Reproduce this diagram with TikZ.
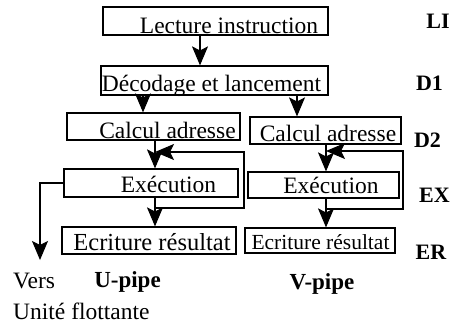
\documentclass[tikz,border=0pt]{standalone}
\usepackage{fontspec}
\setmainfont{Liberation Serif}
\usetikzlibrary{arrows.meta}
\begin{document}
\begin{tikzpicture}[x=1pt,y=-1pt,
  box/.style={draw, line width=1.2pt, inner sep=0pt},
  txt/.style={inner sep=0pt, anchor=base, font=\fontsize{23.5}{28}\selectfont},
  stage/.style={inner sep=0pt, anchor=base, font=\fontsize{22}{26}\selectfont\bfseries},
  arr/.style={line width=1.1pt, -{Stealth[length=19pt,width=16pt,inset=4pt,line width=1pt]}},
  wire/.style={line width=1pt}]
\useasboundingbox (0,0) rectangle (454,324);

% pipeline stage boxes
\node[box, minimum width=225pt, minimum height=28pt] (li)  at (215.5,21)  {};
\node[box, minimum width=227pt, minimum height=29pt] (d1)  at (214.5,80.5) {};
\node[box, minimum width=173pt, minimum height=27pt] (ca1) at (153.5,126.5) {};
\node[box, minimum width=151pt, minimum height=27pt] (ca2) at (325.5,130.5) {};
\node[box, minimum width=174pt, minimum height=28pt] (ex1) at (151,183) {};
\node[box, minimum width=151pt, minimum height=26pt] (ex2) at (323.5,185) {};
\node[box, minimum width=174pt, minimum height=27pt] (er1) at (149,240.5) {};
\node[box, minimum width=150pt, minimum height=25pt] (er2) at (320,240.5) {};

% box texts
\node[txt] (tli)  at (229,33)    {Lecture instruction};
\node[txt] (td1)  at (211.5,91)  {Décodage et lancement};
\node[txt] (tca1) at (167.5,138) {Calcul adresse};
\node[txt] (tca2) at (328,141)   {Calcul adresse};
\node[txt] (tex1) at (168.5,192) {Exécution};
\node[txt] (tex2) at (331,193)   {Exécution};
\node[txt, font=\fontsize{24.5}{28}\selectfont] (ter1) at (152,250)   {Ecriture résultat};
\node[txt, font=\fontsize{21.5}{26}\selectfont] (ter2) at (320.5,249) {Ecriture résultat};

% stage names
\node[stage] (sli) at (438,28)    {LI};
\node[stage] (sd1) at (429.5,90)  {D1};
\node[stage] (sd2) at (427.5,147) {D2};
\node[stage] (sex) at (434.5,202) {EX};
\node[stage] (ser) at (431,259)   {ER};

% pipe names and exit label
\node[stage, font=\fontsize{23}{26}\selectfont\bfseries] (upipe) at (127.5,287) {U-pipe};
\node[stage, font=\fontsize{23}{26}\selectfont\bfseries] (vpipe) at (322,289)   {V-pipe};
\node[txt, anchor=base west] (vers)  at (13,288) {Vers};
\node[txt, anchor=base west] (unite) at (13,319) {Unité flottante};

% vertical flow arrows
\path ([xshift=-15.5pt]li.south)  coordinate (a1);
\path ([xshift=-10.5pt]ca1.north) coordinate (a2);
\path ([xshift=-28.5pt]ca2.north) coordinate (a3);
\path ([xshift=4pt]ex1.north)     coordinate (a4);
\path ([xshift=6pt]er1.north)     coordinate (a5);
\path ([xshift=2.5pt]ex2.north)   coordinate (a6);
\path ([xshift=6pt]er2.north)     coordinate (a7);

\draw[arr] (a1) -- (a1 |- d1.north);
\draw[arr] (a2 |- d1.south) -- (a2);
\draw[arr] (a3 |- d1.south) -- (a3);
\draw[arr] (a4 |- ca1.south) -- (a4);
\draw[arr] (a5 |- ex1.south) -- (a5);
\draw[arr] (a6 |- ca2.south) -- (a6);
\draw[arr] (a7 |- ex2.south) -- (a7);

% feedback loops from execution back to its input
\coordinate (fl0) at (155,208);
\coordinate (fl1) at (244,152);
\draw[arr] (fl0) -| (fl1) -- (fl1 -| a4);
\coordinate (fr0) at (326,209);
\coordinate (fr1) at (403,151);
\draw[arr] (fr0) -| (fr1) -- (fr1 -| a6);

% exit towards the floating point unit
\coordinate (fpu) at (40,260);
\draw[arr] (ex1.west) -| (fpu);
\end{tikzpicture}
\end{document}
